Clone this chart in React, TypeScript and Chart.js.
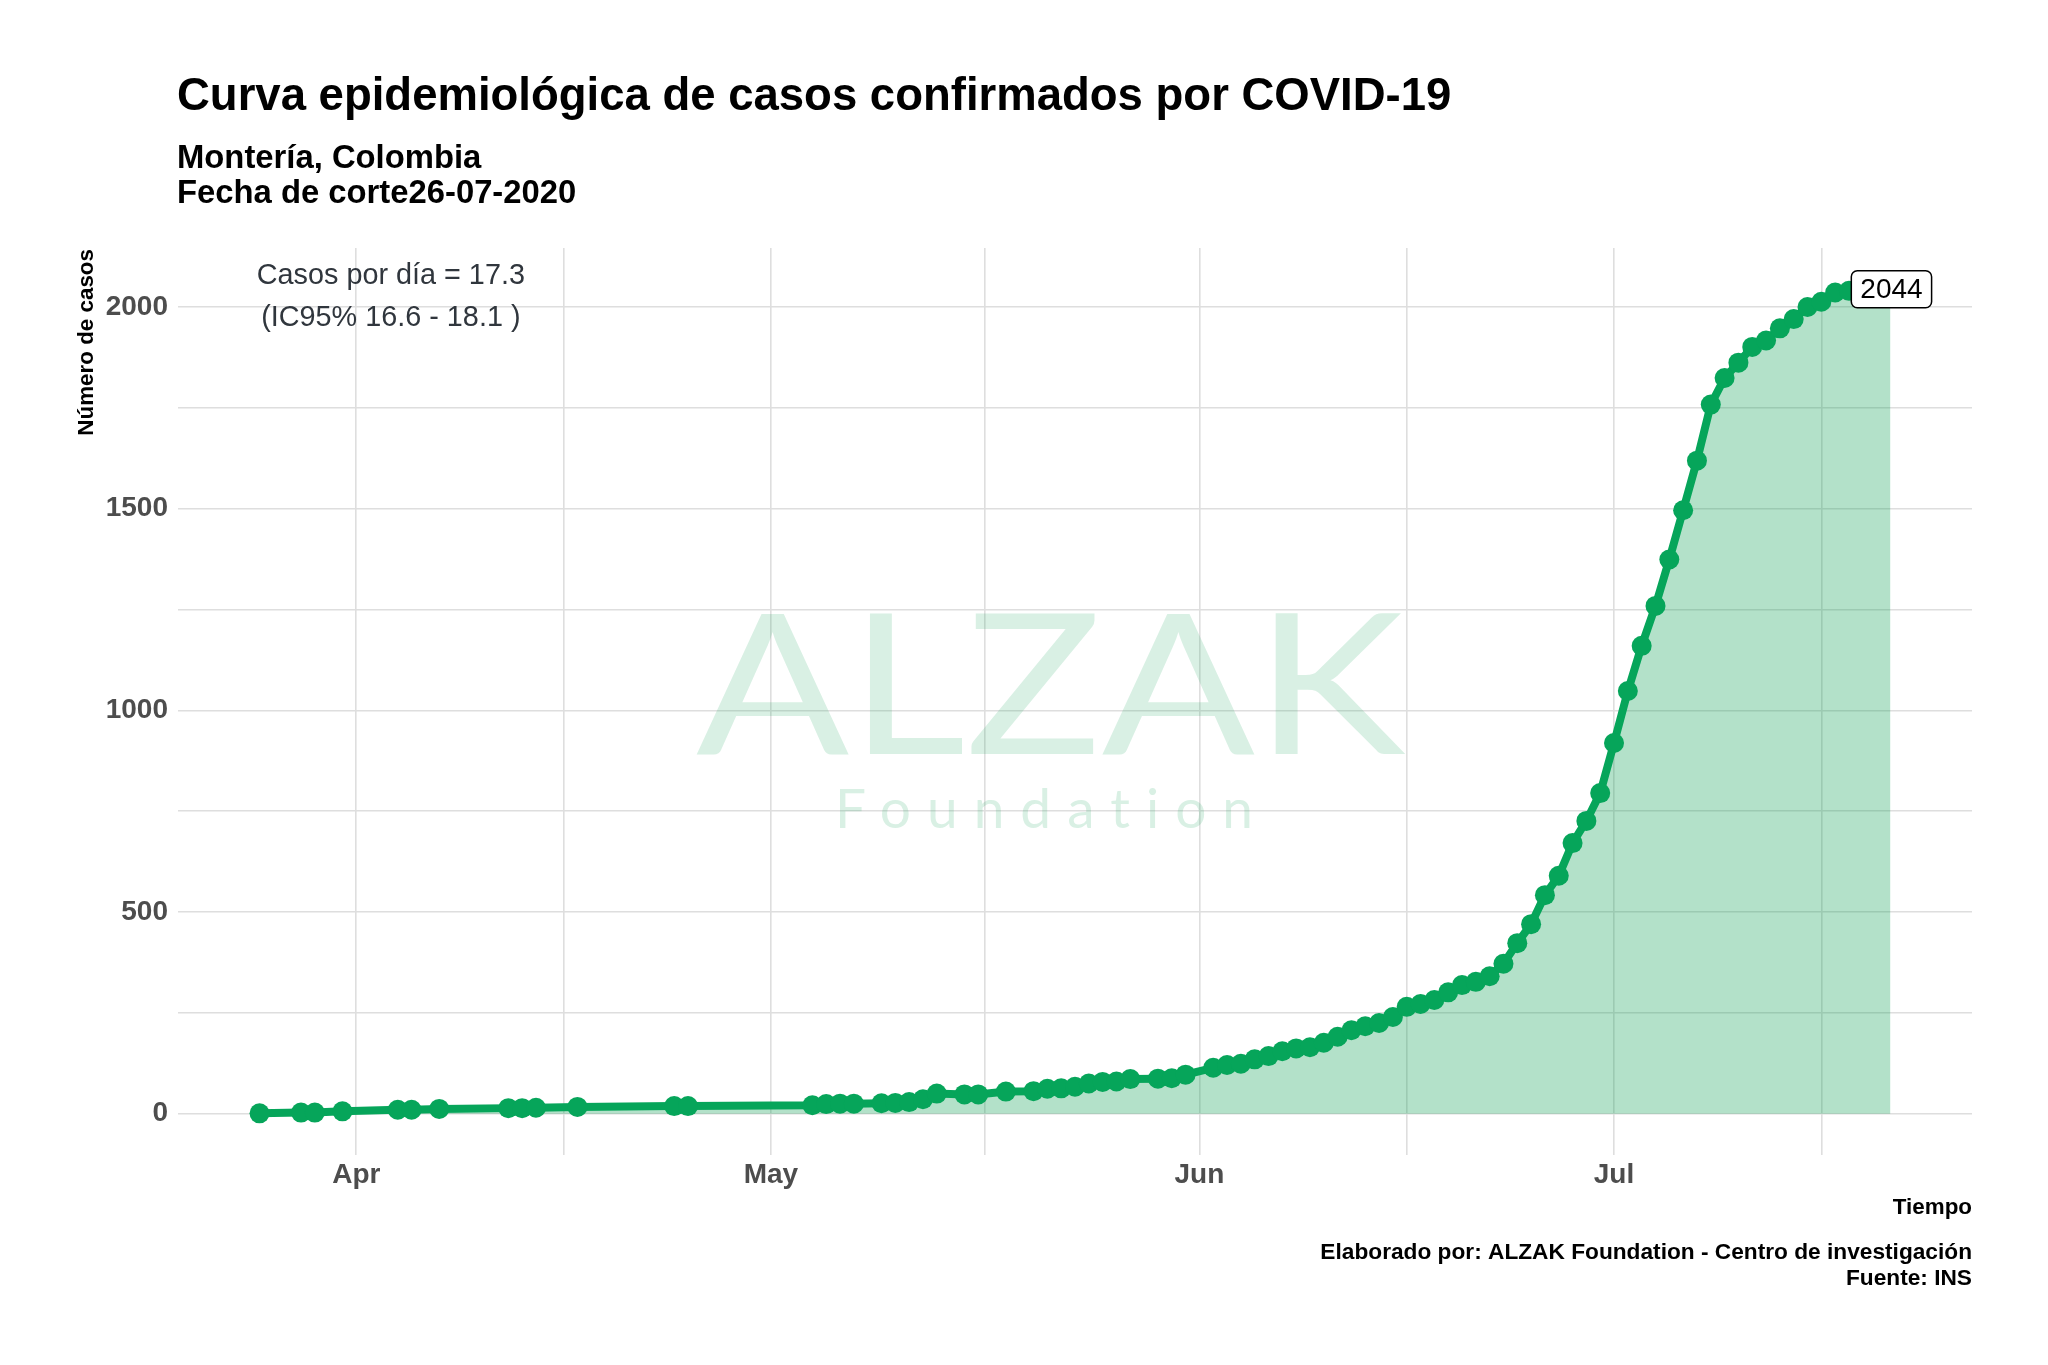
import React, { useEffect, useRef } from "react";
import { Chart, registerables } from "chart.js";

Chart.register(...registerables);

// ---------- data ----------
const fechas: string[] = [
  "2020-03-25", "2020-03-28", "2020-03-29", "2020-03-31",
  "2020-04-04", "2020-04-05", "2020-04-07", "2020-04-12", "2020-04-13", "2020-04-14",
  "2020-04-17", "2020-04-24", "2020-04-25",
  "2020-05-04", "2020-05-05", "2020-05-06", "2020-05-07", "2020-05-09", "2020-05-10",
  "2020-05-11", "2020-05-12", "2020-05-13", "2020-05-15", "2020-05-16", "2020-05-18",
  "2020-05-20", "2020-05-21", "2020-05-22", "2020-05-23", "2020-05-24", "2020-05-25",
  "2020-05-26", "2020-05-27", "2020-05-29", "2020-05-30", "2020-05-31",
  "2020-06-02", "2020-06-03", "2020-06-04", "2020-06-05", "2020-06-06", "2020-06-07",
  "2020-06-08", "2020-06-09", "2020-06-10", "2020-06-11", "2020-06-12", "2020-06-13",
  "2020-06-14", "2020-06-15", "2020-06-16", "2020-06-17", "2020-06-18", "2020-06-19",
  "2020-06-20", "2020-06-21", "2020-06-22", "2020-06-23", "2020-06-24", "2020-06-25",
  "2020-06-26", "2020-06-27", "2020-06-28", "2020-06-29", "2020-06-30",
  "2020-07-01", "2020-07-02", "2020-07-03", "2020-07-04", "2020-07-05", "2020-07-06",
  "2020-07-07", "2020-07-08", "2020-07-09", "2020-07-10", "2020-07-11", "2020-07-12",
  "2020-07-13", "2020-07-14", "2020-07-15", "2020-07-16", "2020-07-17", "2020-07-18",
  "2020-07-19", "2020-07-20", "2020-07-21",
];

const casos: number[] = [
  1, 3, 3, 6,
  10, 10, 12, 14, 14, 15,
  17, 19, 19,
  21, 24, 25, 25, 26, 27,
  29, 36, 50, 48, 48, 55,
  56, 62, 63, 67, 75, 79,
  80, 86, 87, 88, 97,
  114, 121, 124, 135, 143, 155,
  162, 165, 176, 191, 207, 217,
  225, 240, 265, 272, 282, 301,
  319, 327, 341, 372, 423, 470,
  542, 590, 671, 726, 795,
  919, 1048, 1160, 1259, 1374, 1496,
  1619, 1758, 1824, 1862, 1901, 1917,
  1947, 1970, 2000, 2013, 2036, 2040,
  2042, 2043, 2044,
];

const mesesTicks: string[] = ["2020-04-01", "2020-05-01", "2020-06-01", "2020-07-01"];
const mesesEtiquetas: string[] = ["Apr", "May", "Jun", "Jul"];
const lineasMenores: string[] = ["2020-04-16", "2020-05-16T12:00", "2020-06-16", "2020-07-16"];
const yLineas: number[] = [0, 250, 500, 750, 1000, 1250, 1500, 1750, 2000];
const yEtiquetas: number[] = [0, 500, 1000, 1500, 2000];

const titulo = "Curva epidemiológica de casos confirmados por COVID-19";
const subtitulo: string[] = ["Montería, Colombia", "Fecha de corte26-07-2020"];
const tituloY = "Número de casos";
const tituloX = "Tiempo";
const pie: string[] = ["Elaborado por: ALZAK Foundation - Centro de investigación", "Fuente: INS"];
const anotacion: string[] = ["Casos por día = 17.3", "(IC95% 16.6 - 18.1 )"];
const anotacionFecha = "2020-04-03T12:00";
const anotacionValor = 2024;

// ---------- helpers ----------
const BASE = Date.parse("2020-03-01T00:00:00Z");
function dia(s: string): number {
  const t = Date.parse(s.length === 10 ? s + "T00:00:00Z" : s + "Z");
  return (t - BASE) / 86400000;
}

const xs = fechas.map(dia);
const xRange = xs[xs.length - 1] - xs[0];
const xMin = xs[0] - 0.05 * xRange;
const xMax = xs[xs.length - 1] + 0.05 * xRange;
const yTop = Math.max(...casos);
const yMin = 0 - 0.05 * yTop;
const yMax = yTop + 0.05 * yTop;

const majors = mesesTicks.map(dia);
const minors = lineasMenores.map(dia);

const FONT = "'Liberation Sans', Arial, Helvetica, sans-serif";
const VERDE = "#06a55a";

const W = 2048;
const H = 1365;
const AREA = { left: 178, right: 1972, top: 248, bottom: 1155 };

const decor = {
  id: "decor",
  beforeDatasetsDraw(chart: any) {
    const ctx = chart.ctx as CanvasRenderingContext2D;
    const ca = chart.chartArea;
    ctx.save();
    ctx.fillStyle = "rgba(20,160,85,0.16)";
    ctx.textAlign = "left";
    ctx.textBaseline = "alphabetic";
    ctx.font = `400 197px Lato, ${FONT}`;
    const w1 = ctx.measureText("ALZAK").width;
    ctx.save();
    ctx.translate(ca.left + 518, ca.top + 506);
    ctx.scale(709 / w1, 1);
    ctx.fillText("ALZAK", 0, 0);
    ctx.restore();
    ctx.fillStyle = "rgba(20,160,85,0.16)";
    ctx.font = `400 55px Lato, ${FONT}`;
    const w2 = ctx.measureText("Foundation").width;
    const sp = (419 - w2) / 9;
    (ctx as any).letterSpacing = `${sp}px`;
    ctx.fillText("Foundation", ca.left + 657, ca.top + 580);
    (ctx as any).letterSpacing = "0px";
    ctx.restore();
  },
  afterDraw(chart: any) {
    const ctx = chart.ctx as CanvasRenderingContext2D;
    const ca = chart.chartArea;
    const xs_ = chart.scales.x;
    const ys_ = chart.scales.y;
    ctx.save();
    ctx.fillStyle = "#000";
    ctx.textBaseline = "alphabetic";
    ctx.textAlign = "left";
    ctx.font = `bold 45.5px ${FONT}`;
    ctx.fillText(titulo, 177, 110);
    ctx.font = `bold 32.8px ${FONT}`;
    ctx.fillText(subtitulo[0], 177, 168);
    ctx.fillText(subtitulo[1], 177, 203);

    // axis titles
    ctx.font = `bold 22.4px ${FONT}`;
    ctx.textAlign = "right";
    ctx.fillText(tituloX, ca.right, 1214);
    ctx.font = `bold 22.7px ${FONT}`;
    ctx.fillText(pie[0], ca.right, 1259);
    ctx.fillText(pie[1], ca.right, 1285);
    ctx.save();
    ctx.font = `bold 22.4px ${FONT}`;
    ctx.translate(93, 249);
    ctx.rotate(-Math.PI / 2);
    ctx.textAlign = "right";
    ctx.textBaseline = "alphabetic";
    ctx.fillText(tituloY, 0, 0);
    ctx.restore();

    // annotation
    ctx.font = `28.8px ${FONT}`;
    ctx.fillStyle = "#30363d";
    ctx.textAlign = "center";
    ctx.textBaseline = "middle";
    const ax = xs_.getPixelForValue(dia(anotacionFecha));
    const ay = ys_.getPixelForValue(anotacionValor);
    ctx.fillText(anotacion[0], ax, ay - 21);
    ctx.fillText(anotacion[1], ax, ay + 21);

    // last value label
    const meta = chart.getDatasetMeta(0);
    const last = meta.data[meta.data.length - 1];
    const txt = String(casos[casos.length - 1]);
    ctx.font = `28px ${FONT}`;
    const tw = ctx.measureText(txt).width;
    const bw = tw + 18;
    const bh = 37;
    const bx = last.x - bw / 2 + 1;
    const by = last.y - bh / 2;
    ctx.beginPath();
    (ctx as any).roundRect(bx, by, bw, bh, 6);
    ctx.fillStyle = "#ffffff";
    ctx.fill();
    ctx.lineWidth = 1.5;
    ctx.strokeStyle = "#000";
    ctx.stroke();
    ctx.fillStyle = "#000";
    ctx.textAlign = "center";
    ctx.textBaseline = "middle";
    ctx.fillText(txt, last.x + 1, last.y + 1);
    ctx.restore();
  },
};

export default function App() {
  const ref = useRef<HTMLCanvasElement | null>(null);
  useEffect(() => {
    if (!ref.current) return;
    const chart = new Chart(ref.current, {
      type: "line",
      data: {
        datasets: [
          {
            data: xs.map((x, i) => ({ x, y: casos[i] })),
            borderColor: VERDE,
            backgroundColor: "rgba(10,158,80,0.31)",
            borderWidth: 8,
            pointRadius: 10,
            pointBackgroundColor: VERDE,
            pointBorderWidth: 0,
            pointHoverRadius: 10,
            fill: "origin",
            tension: 0,
          },
        ],
      },
      options: {
        animation: false,
        responsive: false,
        devicePixelRatio: 1,
        events: [],
        layout: {
          padding: { left: 0, top: AREA.top, right: W - AREA.right, bottom: 150 },
        },
        plugins: {
          legend: { display: false },
          tooltip: { enabled: false },
          title: { display: false },
        },
        scales: {
          x: {
            type: "linear",
            min: xMin,
            max: xMax,
            afterBuildTicks: (s: any) => {
              s.ticks = [...majors, ...minors].sort((a, b) => a - b).map((v) => ({ value: v }));
            },
            afterFit: (s: any) => {
              s.height = H - AREA.bottom - 150;
            },
            ticks: {
              autoSkip: false,
              maxRotation: 0,
              padding: 3,
              color: "#4d4d4d",
              font: { family: FONT, size: 28, weight: "bold" },
              callback: (v: any) => {
                const i = majors.findIndex((m) => Math.abs(m - Number(v)) < 1e-6);
                return i >= 0 ? mesesEtiquetas[i] : "";
              },
            },
            grid: { color: "#dedede", lineWidth: 1.6, drawTicks: false },
            border: { display: false },
          },
          y: {
            type: "linear",
            min: yMin,
            max: yMax,
            afterBuildTicks: (s: any) => {
              s.ticks = yLineas.map((v) => ({ value: v }));
            },
            afterFit: (s: any) => {
              s.width = AREA.left;
            },
            ticks: {
              padding: 10,
              color: "#4d4d4d",
              font: { family: FONT, size: 28, weight: "bold" },
              callback: (v: any) => (yEtiquetas.includes(Number(v)) ? String(v) : ""),
            },
            grid: { color: "#dedede", lineWidth: 1.6, drawTicks: false },
            border: { display: false },
          },
        },
      },
      plugins: [decor],
    } as any);
    return () => chart.destroy();
  }, []);
  return (
    <div style={{ position: "absolute", left: 0, top: 0, width: W, height: H, background: "#fff" }}>
      <canvas ref={ref} width={W} height={H} style={{ display: "block" }} />
    </div>
  );
}
